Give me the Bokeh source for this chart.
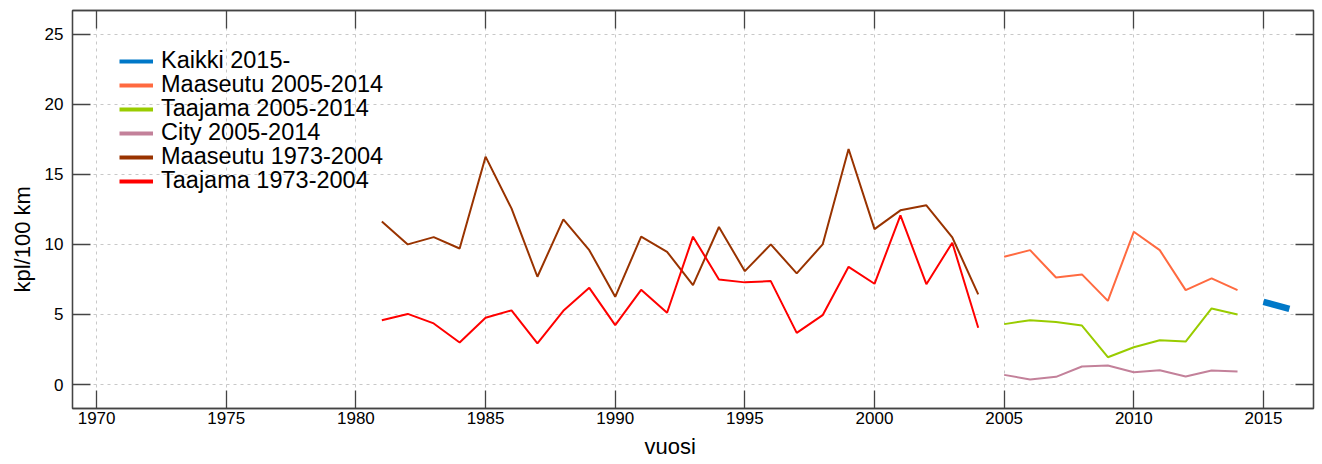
from bokeh.plotting import figure
from bokeh.models import (LinearAxis, FixedTicker, Legend, LegendItem, Range1d,
                          Title, CustomLabelingPolicy)
from bokeh.embed import file_html
from bokeh.resources import INLINE

# ---- data ----
years_old = list(range(1981, 2005))
maaseutu_old = [11.64, 10.0, 10.52, 9.71, 16.26, 12.57, 7.69, 11.79, 9.59, 6.26,
                10.55, 9.47, 7.09, 11.24, 8.09, 10.0, 7.93, 10.0, 16.81, 11.09,
                12.43, 12.79, 10.5, 6.43]
taajama_old = [4.59, 5.04, 4.36, 3.0, 4.76, 5.29, 2.93, 5.26, 6.9, 4.24,
               6.76, 5.12, 10.55, 7.5, 7.29, 7.38, 3.69, 4.95, 8.4, 7.19,
               12.07, 7.16, 10.12, 4.05]
years_mid = list(range(2005, 2015))
maaseutu_mid = [9.12, 9.59, 7.64, 7.86, 5.97, 10.9, 9.59, 6.74, 7.57, 6.74]
taajama_mid = [4.31, 4.59, 4.47, 4.21, 1.95, 2.66, 3.16, 3.07, 5.43, 5.0]
city_mid = [0.69, 0.36, 0.55, 1.29, 1.36, 0.88, 1.02, 0.57, 1.0, 0.93]
years_new = [2015, 2016]
kaikki_new = [5.9, 5.4]

x_ticks = [1970, 1975, 1980, 1985, 1990, 1995, 2000, 2005, 2010, 2015]
y_ticks = [0, 5, 10, 15, 20, 25]

series_labels = ["Kaikki 2015-", "Maaseutu 2005-2014", "Taajama 2005-2014",
                 "City 2005-2014", "Maaseutu 1973-2004", "Taajama 1973-2004"]
colors = ["#0078c8", "#ff6a40", "#99cc00", "#c3819a", "#993300", "#ff0000"]
series_x = [years_new, years_mid, years_mid, years_mid, years_old, years_old]
series_y = [kaikki_new, maaseutu_mid, taajama_mid, city_mid, maaseutu_old, taajama_old]

x_title = "vuosi"
y_title = "kpl/100 km"

FONT = "Liberation Sans"
AX = "#444444"

p = figure(width=1322, height=464,
           x_range=Range1d(1969.07, 2016.93), y_range=Range1d(-1.71, 26.69),
           output_backend="svg", toolbar_location=None,
           min_border_left=72, min_border_right=9, min_border_top=10,
           min_border_bottom=56)

p.outline_line_color = AX
p.outline_line_width = 1.3


def style_axis(ax, ticks, show_labels=True):
    ax.ticker = FixedTicker(ticks=ticks)
    ax.major_tick_in = 18
    ax.major_tick_out = 0
    ax.minor_tick_in = 0
    ax.minor_tick_out = 0
    ax.major_tick_line_color = AX
    ax.major_tick_line_width = 1.3
    ax.axis_line_color = AX
    ax.axis_line_width = 1.3
    ax.major_label_text_font = FONT
    ax.major_label_text_color = "black"
    if show_labels:
        ax.major_label_text_font_size = "17px"
    else:
        ax.major_label_text_font_size = "0px"
        ax.major_label_standoff = 0
        ax.major_label_policy = CustomLabelingPolicy(code="return []")


xa = p.xaxis[0]
ya = p.yaxis[0]
style_axis(xa, x_ticks)
style_axis(ya, y_ticks)
xa.major_label_standoff = 3
ya.major_label_standoff = 9

top_ax = LinearAxis()
style_axis(top_ax, x_ticks, show_labels=False)
p.add_layout(top_ax, "above")
right_ax = LinearAxis()
style_axis(right_ax, y_ticks, show_labels=False)
p.add_layout(right_ax, "right")

# axis titles as side titles (they allow an offset along the axis)
p.add_layout(Title(text=y_title, align="left", offset=116, standoff=14,
                   text_font=FONT, text_font_size="22px", text_font_style="normal",
                   text_color="black"), "left")
p.add_layout(Title(text=x_title, align="left", offset=572, standoff=10,
                   vertical_align="bottom", text_line_height=1.0,
                   text_font=FONT, text_font_size="22px", text_font_style="normal",
                   text_color="black"), "below")

p.xgrid.ticker = FixedTicker(ticks=x_ticks)
p.ygrid.ticker = FixedTicker(ticks=y_ticks)
for g in (p.xgrid, p.ygrid):
    g.grid_line_color = "#c8c8c8"
    g.grid_line_dash = "3 4"
    g.grid_line_width = 1

# ---- data lines (drawn oldest first) ----
widths = [6.5, 2, 2, 2, 2, 2]
for i in [4, 5, 1, 2, 3, 0]:
    p.line(series_x[i], series_y[i], line_color=colors[i], line_width=widths[i])

# ---- legend: one row per entry (24 px pitch), proxy renderers with a
#      single point so they draw nothing in the plot themselves ----
ROW = 24          # px between legend rows
ITEM_H = 27       # rendered height of one legend row
FIRST_C = 50      # px from frame top to centre of first row
FRAME_H = 464 - 10 - 56
for k, (lab, col, xs, ys) in enumerate(zip(series_labels, colors, series_x, series_y)):
    r = p.line(x=xs[:1], y=ys[:1], line_color=col, line_width=4)
    vy = round(FRAME_H - (FIRST_C + ROW * k) - ITEM_H / 2)
    lg = Legend(items=[LegendItem(label=lab, renderers=[r])], location=(47, vy),
                padding=0, margin=0, spacing=0,
                glyph_width=34, glyph_height=24, label_height=24, label_standoff=8,
                label_text_font=FONT, label_text_font_size="23.5px",
                label_text_color="black",
                border_line_color=None, background_fill_alpha=0)
    p.add_layout(lg)

open("out.html", "w").write(file_html(p, INLINE))
